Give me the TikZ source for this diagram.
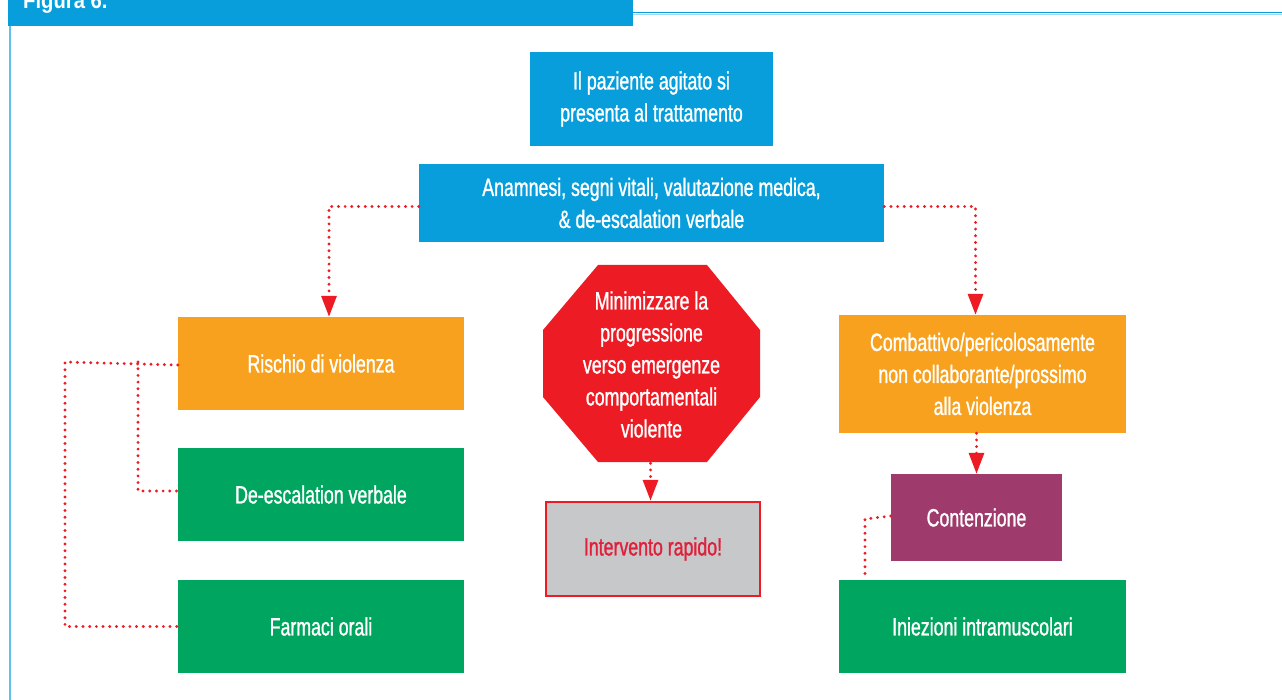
\documentclass[tikz,border=0pt]{standalone}
\usepackage{fontspec}
\setmainfont{Liberation Sans}
\newfontfamily\condfont{Liberation Sans}[FakeStretch=0.71, FakeBold=1.1]
\newfontfamily\titlefont{Liberation Sans Bold}[FakeStretch=0.88]
\usetikzlibrary{arrows.meta}

\definecolor{hdrblue}{HTML}{079EDB}
\definecolor{framelt}{HTML}{62C1EC}
\definecolor{boxblue}{HTML}{079EDB}
\definecolor{boxorange}{HTML}{F7A11E}
\definecolor{boxgreen}{HTML}{00A55F}
\definecolor{boxpurple}{HTML}{9E3B6C}
\definecolor{stopred}{HTML}{ED1C24}
\definecolor{boxgray}{HTML}{C7C8CA}
\definecolor{alertred}{HTML}{E11F3B}

\tikzset{
  stepbox/.style={rectangle, inner sep=0pt, text=white, align=center,
    font=\condfont\fontsize{25}{32}\selectfont},
  linkdots/.style={draw=stopred, line width=3.2pt, line cap=round,
    dash pattern=on 0pt off 6.7pt},
  linkarrow/.style={linkdots, -{Triangle[length=21pt,width=15pt]}},
}

\begin{document}
\begin{tikzpicture}[x=1pt, y=-1pt]
\useasboundingbox (0,0) rectangle (1282,700);
\fill[white] (0,0) rectangle (1282,700);

% header bar and frame
\fill[hdrblue] (8,0) rectangle (633,26.5);
\draw[framelt, line width=2pt] (10,26.5) -- (10,700);
\draw[hdrblue, line width=1.5pt] (633,12.3) -- (1282,12.3);
\draw[framelt!60, line width=0.6pt] (633,14) -- (1282,14);
\node[anchor=base west, text=white, inner sep=0pt,
      font=\titlefont\fontsize{23}{26}\selectfont] (title) at (23,9) {Figura 6.};

% main column
\node[stepbox, fill=boxblue, minimum width=243pt, minimum height=94pt] (top) at (651.5,99)
  {Il paziente agitato si\\presenta al trattamento};
\node[stepbox, fill=boxblue, minimum width=465pt, minimum height=78pt] (anam) at (651.5,203)
  {Anamnesi, segni vitali, valutazione medica,\\\& de-escalation verbale};

% left column
\node[stepbox, fill=boxorange, minimum width=286pt, minimum height=93pt] (risk) at (321,363.5)
  {Rischio di violenza};
\node[stepbox, fill=boxgreen, minimum width=286pt, minimum height=93pt] (deesc) at (321,494.5)
  {De-escalation verbale};
\node[stepbox, fill=boxgreen, minimum width=286pt, minimum height=93pt] (farm) at (321,626.5)
  {Farmaci orali};

% stop sign
\fill[stopred] (598,265) -- (707,265) -- (760,330) -- (760,397) -- (707,462)
  -- (598,462) -- (543,397) -- (543,330) -- cycle;
\node[stepbox, minimum width=217pt, minimum height=197pt] (stop) at (651.5,364.5)
  {Minimizzare la\\progressione\\verso emergenze\\comportamentali\\violente};
\node[stepbox, fill=boxgray, draw=stopred, line width=2.5pt, text=alertred,
      minimum width=214pt, minimum height=94pt] (rapid) at (653,549)
  {Intervento rapido!};

% right column
\node[stepbox, fill=boxorange, minimum width=287pt, minimum height=118pt] (comb) at (982.5,374)
  {Combattivo/pericolosamente\\non collaborante/prossimo\\alla violenza};
\node[stepbox, fill=boxpurple, minimum width=171pt, minimum height=87pt] (cont) at (976.5,517.5)
  {Contenzione};
\node[stepbox, fill=boxgreen, minimum width=287pt, minimum height=93pt] (inie) at (982.5,626.5)
  {Iniezioni intramuscolari};

% connectors
\draw[linkarrow] ([yshift=-3.5pt]anam.west) -| ([xshift=8pt]risk.north);
\draw[linkarrow] ([yshift=-3.5pt]anam.east) -| ([xshift=-7pt]comb.north);
\draw[linkarrow] ([xshift=-1pt]stop.south) -- ([xshift=-2.5pt]rapid.north);
\draw[linkarrow] (cont.north |- comb.south) -- (cont.north);

\coordinate (lout) at (65,362);
\coordinate (lin) at (138,362);
\draw[linkdots] ([yshift=-1.5pt]risk.west) -- (lout) |- (farm.west);
\draw[linkdots] (lin) |- ([yshift=3.5pt]deesc.west);

\coordinate (rout) at (865,519);
\draw[linkdots] ([yshift=1.5pt]cont.west) -- (rout) -- (rout |- inie.north);
\end{tikzpicture}
\end{document}
